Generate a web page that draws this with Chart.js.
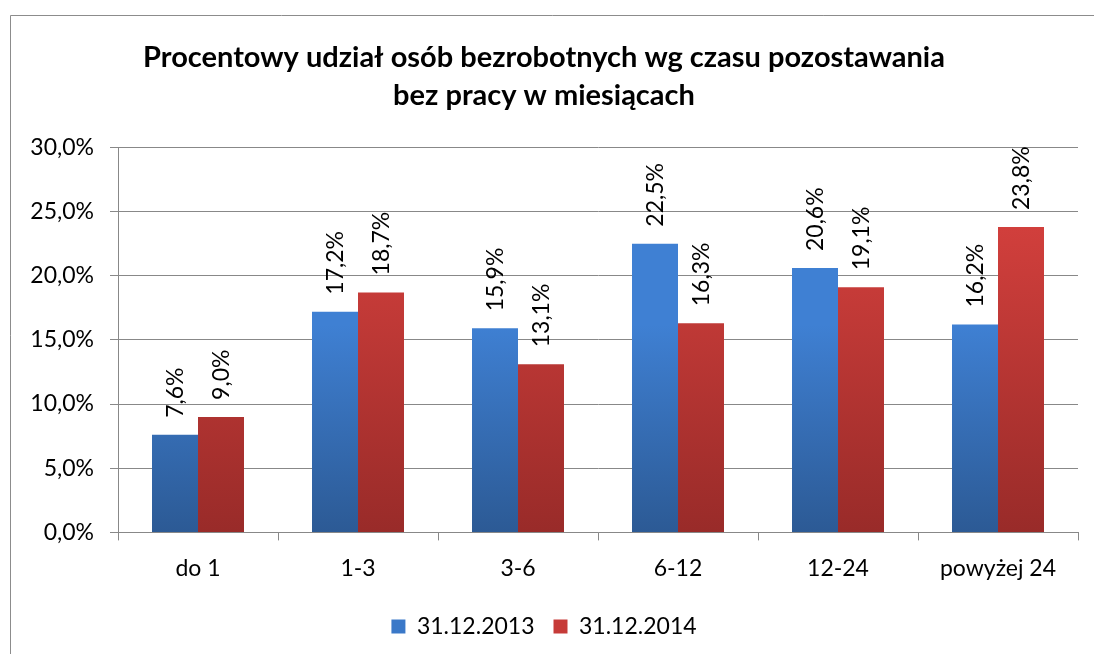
<!DOCTYPE html>
<html>
<head>
<meta charset="utf-8">
<script src="https://cdn.jsdelivr.net/npm/chart.js@4"></script>
<style>
  html, body { margin: 0; padding: 0; background: #fff; }
  #wrap { width: 1094px; height: 654px; }
</style>
</head>
<body>
<div id="wrap"><canvas id="myChart" width="1094" height="654"></canvas></div>
<script>
var kategorie = ['do 1', '1-3', '3-6', '6-12', '12-24', 'powyżej 24'];
var rok2013 = [7.6, 17.2, 15.9, 22.5, 20.6, 16.2];
var rok2014 = [9.0, 18.7, 13.1, 16.3, 19.1, 23.8];
var serie = ['31.12.2013', '31.12.2014'];

var czcionka = 'Lato, "Open Sans", sans-serif';

function procent(v) {
  return v.toFixed(1).replace('.', ',') + '%';
}

// ramka wokół wykresu
var ramka = {
  id: 'ramka',
  beforeDraw: function (chart) {
    var c = chart.ctx;
    c.save();
    c.fillStyle = '#fff';
    c.fillRect(0, 0, chart.width, chart.height);
    c.strokeStyle = '#8c8c8c';
    c.lineWidth = 1;
    c.beginPath();
    c.moveTo(10.5, chart.height + 2);
    c.lineTo(10.5, 15.5);
    c.lineTo(chart.width + 2, 15.5);
    c.stroke();
    c.restore();
  }
};

// gradient na każdym słupku osobno
var gradienty = {
  id: 'gradienty',
  beforeDatasetDraw: function (chart, args) {
    var kolory = [['#3f80d3', '#2c5a95'], ['#d13f3c', '#992b29']];
    var k = kolory[args.index];
    args.meta.data.forEach(function (el) {
      var g = chart.ctx.createLinearGradient(0, el.y, 0, el.base);
      g.addColorStop(0, k[0]);
      g.addColorStop(1, k[1]);
      el.options.backgroundColor = g;
    });
  }
};

// etykiety wartości obrócone o 90 stopni
var etykiety = {
  id: 'etykiety',
  afterDatasetsDraw: function (chart) {
    var c = chart.ctx;
    c.save();
    c.font = '23px ' + czcionka;
    c.fillStyle = '#000';
    c.textAlign = 'left';
    c.textBaseline = 'middle';
    chart.data.datasets.forEach(function (ds, i) {
      chart.getDatasetMeta(i).data.forEach(function (el, j) {
        c.save();
        c.translate(el.x, el.y - 17);
        c.rotate(-Math.PI / 2);
        c.fillText(procent(ds.data[j]), 0, 1);
        c.restore();
      });
    });
    c.restore();
  }
};

const ctx = document.getElementById('myChart').getContext('2d');
const myChart = new Chart(ctx, {
  type: 'bar',
  data: {
    labels: kategorie,
    datasets: [{
      label: serie[0],
      data: rok2013,
      backgroundColor: '#3c7dd0',
      borderWidth: 0
    }, {
      label: serie[1],
      data: rok2014,
      backgroundColor: '#cf3d3a',
      borderWidth: 0
    }]
  },
  options: {
    responsive: false,
    animation: false,
    categoryPercentage: 0.575,
    barPercentage: 1,
    layout: { padding: { left: 10, right: 16, top: 22, bottom: 6 } },
    plugins: {
      title: {
        display: true,
        text: ['Procentowy udział osób bezrobotnych wg czasu pozostawania', 'bez pracy w miesiącach'],
        color: '#000',
        font: { family: czcionka, size: 29, weight: 'bold', lineHeight: 1.3 },
        padding: { top: 17, bottom: 33 }
      },
      legend: {
        position: 'bottom',
        labels: {
          color: '#000',
          font: { family: czcionka, size: 23 },
          boxWidth: 14,
          boxHeight: 14,
          padding: 19,
          generateLabels: function (chart) {
            var kol = ['#3a78c8', '#c63b38'];
            return chart.data.datasets.map(function (ds, i) {
              return { text: ds.label, fillStyle: kol[i], strokeStyle: kol[i], lineWidth: 0, datasetIndex: i };
            });
          }
        }
      },
      tooltip: { enabled: false }
    },
    scales: {
      x: {
        grid: { drawOnChartArea: false, drawTicks: true, tickLength: 8, color: '#888' },
        border: { color: '#888' },
        ticks: { color: '#000', font: { family: czcionka, size: 23 }, padding: 14 }
      },
      y: {
        min: 0,
        max: 30,
        ticks: {
          stepSize: 5,
          color: '#000',
          font: { family: czcionka, size: 23 },
          padding: 16,
          callback: function (v) { return procent(v); }
        },
        grid: { color: '#888', tickLength: 8 },
        border: { color: '#888' },
        afterFit: function (scale) { scale.width = 108; }
      }
    }
  },
  plugins: [ramka, gradienty, etykiety]
});
</script>
</body>
</html>
